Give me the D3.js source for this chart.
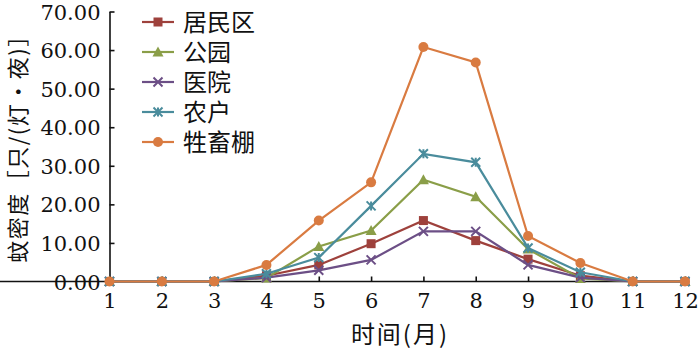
<!DOCTYPE html>
<html>
<head>
<meta charset="utf-8">
<script src="https://cdn.jsdelivr.net/npm/d3@7/dist/d3.min.js"></script>
<style>
    body { margin: 0; background: #fff; }
    text { font-family: 'Noto Sans CJK SC', sans-serif; fill: #111; }
</style>
</head>
<body>
<script>
var months = [1, 2, 3, 4, 5, 6, 7, 8, 9, 10, 11, 12];
var yTicks = [0, 10, 20, 30, 40, 50, 60, 70];
var names = ['居民区', '公园', '医院', '农户', '牲畜棚'];
var residential = [0, 0, 0, 1.5, 4.3, 9.8, 15.8, 10.6, 5.8, 1.5, 0, 0];
var park = [0, 0, 0, 0.9, 9.1, 13.2, 26.4, 22.0, 8.4, 0.8, 0, 0];
var hospital = [0, 0, 0, 1.0, 2.9, 5.6, 13.0, 13.0, 4.3, 1.0, 0, 0];
var farmhouse = [0, 0, 0, 2.0, 6.2, 19.6, 33.1, 30.9, 8.7, 2.4, 0, 0];
var livestock = [0, 0, 0, 4.3, 15.8, 25.7, 60.8, 56.8, 11.8, 4.8, 0, 0];

var colors = ['#9e413c', '#8a9e48', '#6c4f86', '#4a8c9c', '#d97b41'],
    shapes = ['square', 'triangle', 'cross', 'star', 'circle'],
    series = [residential, park, hospital, farmhouse, livestock].map(function(values, i) {
        return {
            label: names[i],
            color: colors[i],
            shape: shapes[i],
            values: values.map(function(v, j) { return { month: months[j], value: v }; })
        };
    });

var svg = d3.select('body').append('svg')
        .attr('width', 700)
        .attr('height', 351),
    xScale = d3.scaleLinear().domain([1, 12]).range([109.5, 685]),
    yScale = d3.scaleLinear().domain([0, 70]).range([281.5, 11.5]),
    line = d3.line()
        .x(function(d) { return xScale(d.month); })
        .y(function(d) { return yScale(d.value); });

// axes
var xAxis = svg.append('g')
    .attr('transform', 'translate(0,' + yScale(0) + ')')
    .call(d3.axisBottom(xScale).tickValues(months).tickSize(-5).tickSizeOuter(0).tickPadding(12).tickFormat(d3.format('d')));
var yAxis = svg.append('g')
    .attr('transform', 'translate(' + xScale(1) + ',0)')
    .call(d3.axisLeft(yScale).tickValues(yTicks).tickSize(-5).tickSizeOuter(0).tickPadding(9).tickFormat(d3.format('.2f')));

[xAxis, yAxis].forEach(function(ax) {
    ax.attr('font-family', 'DejaVu Serif').attr('font-size', 21);
    ax.select('.domain').attr('stroke', '#111').attr('stroke-width', 1.6);
    ax.selectAll('.tick line').attr('stroke', '#111').attr('stroke-width', 1.6);
    ax.selectAll('.tick text')
        .style('font-family', 'DejaVu Serif')
        .attr('fill', '#111');
});
xAxis.select('.domain').attr('d', 'M0,0H' + xScale(12));
yAxis.selectAll('.tick text').attr('dy', '0.36em');
xAxis.selectAll('.tick text').attr('dy', '0.71em');

svg.append('text')
    .attr('x', 400)
    .attr('y', 343)
    .attr('text-anchor', 'middle')
    .style('font-size', '24px')
    .style('letter-spacing', '2px')
    .text('时间(月)');

svg.append('text')
    .attr('transform', 'translate(26,143) rotate(-90)')
    .attr('text-anchor', 'middle')
    .style('font-size', '22px')
    .style('letter-spacing', '1.5px')
    .text('蚊密度［只/(灯·夜)］');

function drawMarker(g, shape, color, size) {
    var s = size / 2;
    if (shape === 'square') {
        g.append('rect').attr('x', -s).attr('y', -s).attr('width', size).attr('height', size).attr('fill', color);
    } else if (shape === 'triangle') {
        g.append('path').attr('d', 'M0,' + (-s - 1) + 'L' + (s + 1) + ',' + s + 'L' + (-s - 1) + ',' + s + 'Z').attr('fill', color);
    } else if (shape === 'circle') {
        g.append('circle').attr('r', s + 0.5).attr('fill', color);
    } else {
        g.append('path')
            .attr('d', 'M' + (-s) + ',' + (-s) + 'L' + s + ',' + s + 'M' + s + ',' + (-s) + 'L' + (-s) + ',' + s +
                (shape === 'star' ? 'M0,' + (-s) + 'L0,' + s : ''))
            .attr('stroke', color)
            .attr('stroke-width', 2)
            .attr('fill', 'none');
    }
}

var lines = svg.append('g').selectAll('.serie')
    .data(series)
    .enter()
    .append('g')
    .attr('class', 'serie');

lines.append('path')
    .attr('d', function(d) { return line(d.values); })
    .attr('fill', 'none')
    .attr('stroke', function(d) { return d.color; })
    .attr('stroke-width', 2.2);

lines.each(function(serie) {
    d3.select(this).selectAll('.pt')
        .data(serie.values)
        .enter()
        .append('g')
        .attr('class', 'pt')
        .attr('transform', function(d) { return 'translate(' + xScale(d.month) + ',' + yScale(d.value) + ')'; })
        .each(function() { drawMarker(d3.select(this), serie.shape, serie.color, 9); });
});

// legend
var legend = svg.append('g').selectAll('.legend')
    .data(series)
    .enter()
    .append('g')
    .attr('class', 'legend')
    .attr('transform', function(d, i) { return 'translate(142,' + (22 + i * 30) + ')'; });

legend.append('line')
    .attr('x1', 0)
    .attr('x2', 32)
    .attr('stroke', function(d) { return d.color; })
    .attr('stroke-width', 2.2);

legend.each(function(d) {
    var m = d3.select(this).append('g').attr('transform', 'translate(16,0)');
    drawMarker(m, d.shape, d.color, 9);
});

legend.append('text')
    .attr('x', 41)
    .attr('dy', '0.36em')
    .style('font-size', '24px')
    .text(function(d) { return d.label; });
</script>
</body>
</html>
